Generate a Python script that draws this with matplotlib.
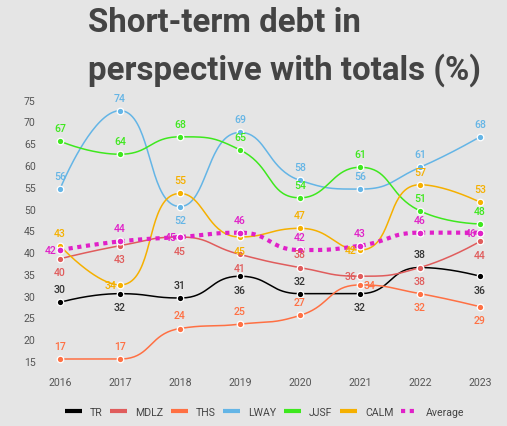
import numpy as np
import matplotlib
matplotlib.use("Agg")
import matplotlib.pyplot as plt
from matplotlib.lines import Line2D
from matplotlib.transforms import ScaledTranslation

plt.rcParams['font.family'] = ['Roboto', 'DejaVu Sans']

years = [2016, 2017, 2018, 2019, 2020, 2021, 2022, 2023]
tr = [30, 32, 31, 36, 32, 32, 38, 36]
mdlz = [40, 43, 45, 41, 38, 36, 38, 44]
ths = [17, 17, 24, 25, 27, 34, 32, 29]
lway = [56, 74, 52, 69, 58, 56, 61, 68]
jjsf = [67, 64, 68, 65, 54, 61, 51, 48]
calm = [43, 34, 55, 45, 47, 42, 57, 53]
average = [42, 44, 45, 46, 42, 43, 46, 46]
y_ticks = [15, 20, 25, 30, 35, 40, 45, 50, 55, 60, 65, 70, 75]

# series name, values, line colour, label colour
series = [
    ("TR", tr, "#000000", "#333333"),
    ("MDLZ", mdlz, "#e05c5c", "#e05c5c"),
    ("THS", ths, "#ff7043", "#ff7043"),
    ("LWAY", lway, "#64b5e6", "#64b5e6"),
    ("JJSF", jjsf, "#3ee81e", "#3ee81e"),
    ("CALM", calm, "#f5b000", "#f5b000"),
]
avg_color = "#e020c8"

# label placement per point: a=above, b=below, l=left, r=right
label_pos = {
    "TR": "abababab",
    "MDLZ": "bbbbalbb",
    "THS": "aaaaarbb",
    "LWAY": "aabaaaaa",
    "JJSF": "aaaaaaaa",
    "CALM": "alabalaa",
    "Average": "lalaaaal",
}

BG = "#e5e5e5"
PX_X = 60.0      # pixels per year
PX_Y = 4.356     # pixels per unit


def smooth_curve(xs, ys, smooth=0.5, n=40):
    # echarts-like bezier smoothing, control points clamped to segments
    P = np.column_stack([np.array(xs, float) * PX_X, np.array(ys, float) * PX_Y])
    m = len(P)
    cp_next = P.copy()
    cp_prev = P.copy()
    for i in range(1, m - 1):
        p, a, b = P[i], P[i - 1], P[i + 1]
        v = b - a
        d0 = np.hypot(*(p - a))
        d1 = np.hypot(*(b - p))
        r = d1 / (d0 + d1)
        nxt = p + v * smooth * r
        nxt = np.minimum(nxt, np.maximum(b, p))
        nxt = np.maximum(nxt, np.minimum(b, p))
        w = nxt - p
        prv = p - w * d0 / d1
        prv = np.minimum(prv, np.maximum(a, p))
        prv = np.maximum(prv, np.minimum(a, p))
        w = p - prv
        nxt = p + w * d1 / d0
        cp_next[i] = nxt
        cp_prev[i] = prv
    t = np.linspace(0, 1, n)[:, None]
    pts = []
    for i in range(m - 1):
        p0, p1, p2, p3 = P[i], cp_next[i], cp_prev[i + 1], P[i + 1]
        seg = ((1 - t) ** 3) * p0 + 3 * ((1 - t) ** 2) * t * p1 + 3 * (1 - t) * t ** 2 * p2 + t ** 3 * p3
        pts.append(seg if i == 0 else seg[1:])
    pts = np.vstack(pts)
    return pts[:, 0] / PX_X, pts[:, 1] / PX_Y


fig = plt.figure(figsize=(5.07, 4.27), dpi=100, facecolor=BG)
ax = fig.add_axes([60 / 507, 1 - 370.9 / 427, 420 / 507, (370.9 - 98.6) / 427])
ax.set_facecolor(BG)
ax.set_xlim(2016, 2023)
ax.set_ylim(14.5, 77)
for s in ax.spines.values():
    s.set_visible(False)


def put_labels(vals, pos, color):
    for x, v, p in zip(years, vals, pos):
        if p == "a":
            off, ha, va = (0, 9.4), "center", "center"
        elif p == "b":
            off, ha, va = (0, -9.8), "center", "center"
        elif p == "l":
            off, ha, va = (-2.5, 0), "right", "center"
        else:
            off, ha, va = (2.5, 0), "left", "center"
        ax.annotate(str(v), (x, v), xytext=off, textcoords="offset points",
                    ha=ha, va=va, fontsize=7.6, color=color,
                    fontweight="medium", annotation_clip=False, zorder=6)


handles = []
for name, vals, col, lcol in series:
    sx, sy = smooth_curve(years, vals)
    ax.plot(sx, sy, color=col, lw=1.1, clip_on=False, zorder=3)
    ax.scatter(years, vals, s=22, color=col, edgecolor="white",
               linewidth=0.9, clip_on=False, zorder=4)
    put_labels(vals, label_pos[name], lcol)
    handles.append(Line2D([], [], color=col, lw=3.0, solid_capstyle="butt"))

sx, sy = smooth_curve(years, average)
ax.plot(sx, sy, color=avg_color, lw=3.0, linestyle=(0, (1, 1.1)),
        dash_capstyle="butt", clip_on=False, zorder=3)
ax.scatter(years, average, s=24, color=avg_color, edgecolor="white",
           linewidth=0.9, clip_on=False, zorder=4)
put_labels(average, label_pos["Average"], avg_color)
handles.append(Line2D([], [], color=avg_color, lw=3.0, linestyle=(0, (1, 1.1)),
                      dash_capstyle="butt"))

ax.set_xticks(years)
ax.set_xticklabels([str(y) for y in years])
ax.set_yticks(y_ticks)
ax.set_yticklabels([str(v) for v in y_ticks])
ax.tick_params(axis="x", length=0, pad=5, labelsize=7.6, labelcolor="#555555")
ax.tick_params(axis="y", length=0, pad=26, labelsize=7.6, labelcolor="#555555")
for lab in ax.get_yticklabels():
    lab.set_horizontalalignment("left")
shift = ScaledTranslation(0, 0.067, fig.dpi_scale_trans)
for tk in ax.yaxis.get_major_ticks():
    tk.label1.set_transform(tk.label1.get_transform() + shift)

fig.text(88 / 507, 1 - 31.5 / 427, "Short-term debt in", fontsize=23.8,
         fontweight="bold", color="#444444", ha="left", va="baseline")
fig.text(88 / 507, 1 - 79.5 / 427, "perspective with totals (%)", fontsize=23.8,
         fontweight="bold", color="#444444", ha="left", va="baseline")

names = [s[0] for s in series] + ["Average"]
fig.legend(handles, names, loc="center", bbox_to_anchor=(0.522, 1 - 413 / 427),
           ncol=7, frameon=False, fontsize=7.6, handlelength=1.6,
           handletextpad=0.8, columnspacing=0.68, labelcolor="#444444")

fig.savefig("out.png", dpi=100, facecolor=BG)
